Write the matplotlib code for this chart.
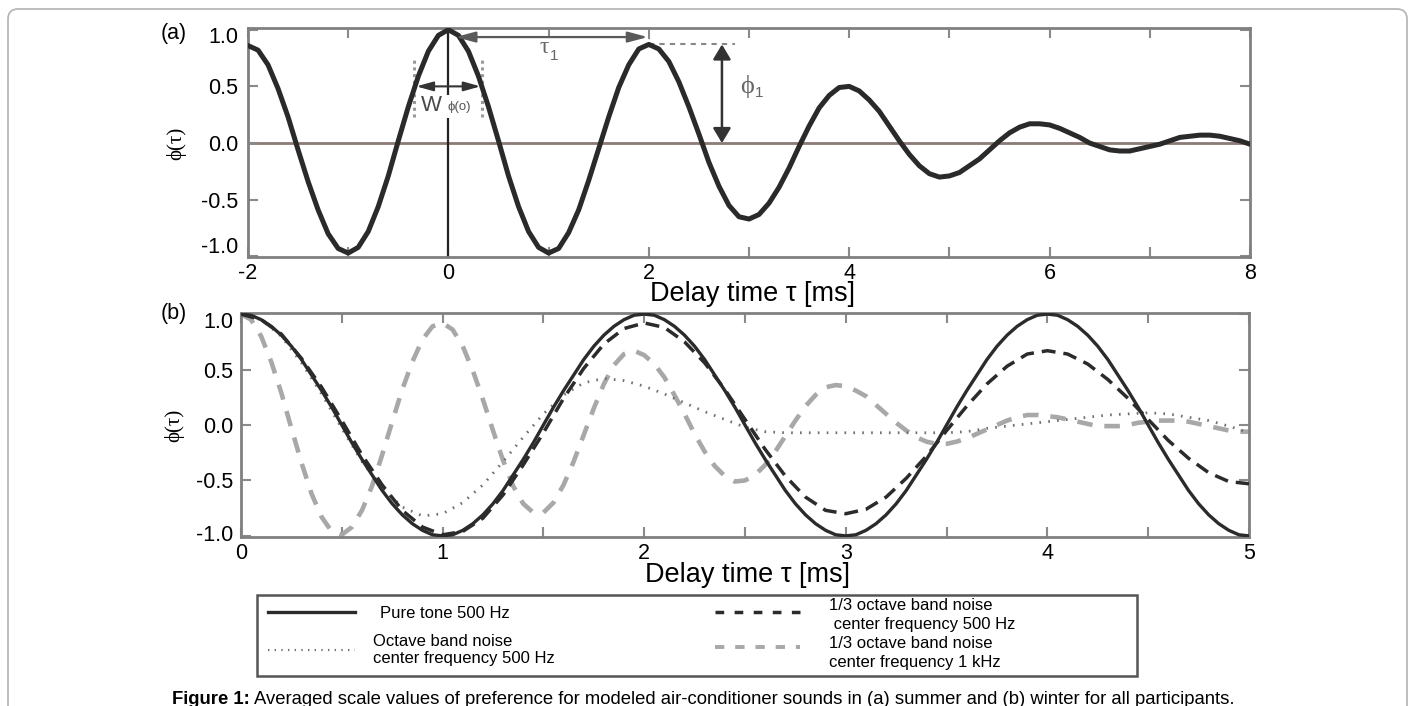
import matplotlib
matplotlib.use('Agg')
import matplotlib.pyplot as plt
import numpy as np
from matplotlib.patches import FancyBboxPatch, Rectangle
from matplotlib.lines import Line2D
from matplotlib.transforms import IdentityTransform, ScaledTranslation

plt.rcParams['font.family'] = ['Liberation Sans', 'DejaVu Sans']
SERIF = ['Liberation Serif', 'DejaVu Serif']

# ---------------- data ----------------
# (a) autocorrelation function, delay -2..8 ms, step 0.1 ms
tau_a = np.round(np.arange(-2.0, 8.0001, 0.1), 2)
phi_a = [0.86, 0.82, 0.69, 0.48, 0.23, -0.06, -0.34, -0.59, -0.80, -0.93,
         -0.97, -0.92, -0.78, -0.56, -0.29, 0.02, 0.32, 0.59, 0.81, 0.95,
         1.00, 0.95, 0.81, 0.59, 0.32, 0.02, -0.29, -0.56, -0.78, -0.92,
         -0.97, -0.93, -0.79, -0.59, -0.33, -0.05, 0.23, 0.49, 0.69, 0.83,
         0.87, 0.83, 0.72, 0.54, 0.32, 0.08, -0.17, -0.38, -0.55, -0.65,
         -0.67, -0.63, -0.53, -0.39, -0.22, -0.03, 0.15, 0.31, 0.42, 0.49,
         0.50, 0.46, 0.38, 0.28, 0.15, 0.02, -0.10, -0.20, -0.27, -0.30,
         -0.29, -0.26, -0.20, -0.14, -0.06, 0.02, 0.09, 0.14, 0.17, 0.17,
         0.16, 0.13, 0.09, 0.05, 0.00, -0.03, -0.06, -0.07, -0.07, -0.05,
         -0.03, -0.01, 0.02, 0.05, 0.06, 0.07, 0.07, 0.06, 0.04, 0.02,
         -0.01]
tau1_peak = 2.0      # delay of first peak
phi1_peak = 0.87     # amplitude of first peak
w_half = 0.34        # half width of W_phi(0) at phi = 0.5

# (b) four sounds, delay 0..5 ms
tau_b = np.round(np.arange(0.0, 5.0001, 0.1), 2)
tau_b_fine = np.round(np.arange(0.0, 5.0001, 0.05), 2)
pure_500 = [1.00, 0.99, 0.95, 0.89, 0.81, 0.71, 0.59, 0.45, 0.31, 0.16,
            0.00, -0.16, -0.31, -0.45, -0.59, -0.71, -0.81, -0.89, -0.95, -0.99,
            -1.00, -0.99, -0.95, -0.89, -0.81, -0.71, -0.59, -0.45, -0.31, -0.16,
            0.00, 0.16, 0.31, 0.45, 0.59, 0.71, 0.81, 0.89, 0.95, 0.99,
            1.00, 0.99, 0.95, 0.89, 0.81, 0.71, 0.59, 0.45, 0.31, 0.16,
            0.00, -0.16, -0.31, -0.45, -0.59, -0.71, -0.81, -0.89, -0.95, -0.99,
            -1.00, -0.99, -0.95, -0.89, -0.81, -0.71, -0.59, -0.45, -0.31, -0.16,
            0.00, 0.16, 0.31, 0.45, 0.59, 0.71, 0.81, 0.89, 0.95, 0.99,
            1.00, 0.99, 0.95, 0.89, 0.81, 0.71, 0.59, 0.45, 0.31, 0.16,
            0.00, -0.16, -0.31, -0.45, -0.59, -0.71, -0.81, -0.89, -0.95, -0.99,
            -1.00]
octave_500 = [1.00, 0.95, 0.80, 0.56, 0.28, -0.03, -0.33, -0.57, -0.74, -0.82,
              -0.80, -0.70, -0.54, -0.33, -0.11, 0.10, 0.27, 0.38, 0.42, 0.40,
              0.35, 0.28, 0.20, 0.12, 0.05, -0.02, -0.06, -0.07, -0.07, -0.07,
              -0.07, -0.07, -0.07, -0.07, -0.07, -0.07, -0.06, -0.03, -0.01, 0.01,
              0.03, 0.05, 0.07, 0.09, 0.10, 0.11, 0.10, 0.07, 0.04, -0.01,
              -0.07]
third_500 = [1.00, 0.95, 0.82, 0.60, 0.34, 0.04, -0.27, -0.54, -0.77, -0.92,
             -0.99, -0.96, -0.84, -0.63, -0.36, -0.07, 0.24, 0.51, 0.73, 0.87,
             0.92, 0.88, 0.75, 0.56, 0.32, 0.05, -0.22, -0.46, -0.65, -0.77,
             -0.80, -0.76, -0.65, -0.48, -0.28, -0.05, 0.17, 0.37, 0.53, 0.64,
             0.67, 0.64, 0.55, 0.41, 0.24, 0.05, -0.14, -0.30, -0.43, -0.51,
             -0.53]
third_1k = [1.00, 0.95, 0.80, 0.57, 0.29, -0.03, -0.34, -0.62, -0.83, -0.96,
            -0.99, -0.92, -0.77, -0.55, -0.27, 0.03, 0.32, 0.57, 0.77, 0.89,
            0.92, 0.86, 0.71, 0.49, 0.23, -0.05, -0.32, -0.55, -0.71, -0.79,
            -0.79, -0.70, -0.54, -0.33, -0.09, 0.15, 0.37, 0.54, 0.64, 0.67,
            0.63, 0.55, 0.43, 0.27, 0.10, -0.08, -0.24, -0.37, -0.46, -0.51,
            -0.50, -0.45, -0.36, -0.24, -0.10, 0.04, 0.17, 0.27, 0.34, 0.36,
            0.35, 0.31, 0.26, 0.18, 0.10, 0.02, -0.05, -0.11, -0.15, -0.17,
            -0.17, -0.15, -0.12, -0.08, -0.04, 0.00, 0.04, 0.07, 0.09, 0.09,
            0.08, 0.07, 0.05, 0.03, 0.01, -0.01, -0.01, -0.01, 0.00, 0.02,
            0.03, 0.04, 0.04, 0.04, 0.03, 0.01, -0.01, -0.03, -0.05, -0.06,
            -0.06]

xticks_a = [-2, 0, 2, 4, 6, 8]
xticks_b = [0, 1, 2, 3, 4, 5]
yticks = [-1.0, -0.5, 0.0, 0.5, 1.0]
ytick_labels = ['-1.0', '-0.5', '0.0', '0.5', '1.0']
legend_labels = ['Pure tone 500 Hz',
                 'Octave band noise\ncenter frequency 500 Hz',
                 '1/3 octave band noise\n center frequency 500 Hz',
                 '1/3 octave band noise\ncenter frequency 1 kHz']
xlabel = 'Delay time τ [ms]'
ylabel = 'ϕ(τ)'
caption_bold = 'Figure 1:'
caption_rest = ('Averaged scale values of preference for modeled air-conditioner '
                'sounds in (a) summer and (b) winter for all participants.')

# ---------------- figure ----------------
W, H = 1415, 706
fig = plt.figure(figsize=(W / 100, H / 100), dpi=100)


def fx(px):
    return px / W


def fy(py):
    return 1 - py / H


# outer rounded page frame
frame = FancyBboxPatch((8, -30), 1399, 697 + 30,
                       boxstyle='round,pad=0,rounding_size=10',
                       transform=IdentityTransform(), fill=False,
                       edgecolor='#b8b8b8', lw=1.3)
fig.add_artist(frame)

SPINE = '#808080'
TICKC = '#8a8a8a'


def style_axes(ax, ypad):
    for s in ax.spines.values():
        s.set_color(SPINE)
        s.set_linewidth(2.0)
    ax.tick_params(which='both', direction='in', top=True, right=True,
                   length=7, width=1.5, color=TICKC, labelsize=15.5,
                   labelcolor='black')
    ax.tick_params(axis='x', which='major', pad=4)
    ax.tick_params(axis='y', which='major', pad=ypad)


def y_end_labels(ax, ypad_px, top_y, bot_y):
    trans = ax.get_yaxis_transform() + ScaledTranslation(-ypad_px / 100, 0, fig.dpi_scale_trans)
    ax.text(0, top_y, ytick_labels[-1], transform=trans, ha='right', va='center',
            fontsize=15.5)
    ax.text(0, bot_y, ytick_labels[0], transform=trans, ha='right', va='center',
            fontsize=15.5)


# ---------- panel (a) ----------
ax_a = fig.add_axes([fx(248), fy(257), fx(1250) - fx(248), (257 - 28) / H])
ax_a.set_xlim(-2, 8)
ax_a.set_ylim(-1.005, 1.015)
ax_a.axhline(0, color='#8c7a76', lw=2.0, zorder=1)
ax_a.axvline(0, ymin=0.0, ymax=0.995, color='#222222', lw=1.6, zorder=2)
ax_a.plot(tau_a, phi_a, color='#2a2a2a', lw=3.6, solid_capstyle='round',
          solid_joinstyle='round', zorder=4)

ax_a.set_xticks(xticks_a)
ax_a.set_xticklabels([str(v) for v in xticks_a])
ax_a.set_xticks([-1, 1, 3, 5, 7], minor=True)
ax_a.set_yticks(yticks)
ax_a.set_yticklabels([''] + ytick_labels[1:-1] + [''])
style_axes(ax_a, 7)
y_end_labels(ax_a, 10, 0.93, -0.925)

# white patch behind W label
ax_a.add_patch(Rectangle((-0.29, 0.22), 0.58, 0.20, facecolor='white',
                         edgecolor='none', zorder=2.5))
ax_a.text(-0.17, 0.335, 'W', fontsize=16, color='#4a4a4a', ha='center',
          va='center', zorder=5)
ax_a.text(0.11, 0.32, 'ϕ(o)', fontsize=9.5, color='#555555', ha='center',
          va='center', zorder=5, family=['Liberation Sans', 'DejaVu Sans'])
# W dotted bounds
for xv in (-w_half, w_half):
    ax_a.plot([xv, xv], [0.23, 0.74], ls=(0, (1, 1.2)), color='#9a9a9a', lw=2.2,
              zorder=3)
ax_a.annotate('', xy=(w_half - 0.02, 0.5), xytext=(-w_half + 0.02, 0.5),
              arrowprops=dict(arrowstyle='<|-|>,head_length=0.5,head_width=0.14',
                              color='#333333', lw=1.5, mutation_scale=20,
                              shrinkA=0, shrinkB=0), zorder=5)

# tau_1 arrow
ax_a.annotate('', xy=(tau1_peak - 0.01, 0.935), xytext=(0.07, 0.935),
              arrowprops=dict(arrowstyle='<|-|>,head_length=0.6,head_width=0.16',
                              color='#5a5a5a', lw=1.6, mutation_scale=20,
                              shrinkA=0, shrinkB=0), zorder=5)
ax_a.plot([tau1_peak, tau1_peak], [phi1_peak, 1.0], ls=(0, (1, 1.5)),
          color='#888888', lw=1.4, zorder=3)
ax_a.plot([tau1_peak, 2.86], [phi1_peak, phi1_peak], ls=(0, (2.5, 2.5)),
          color='#888888', lw=1.5, zorder=3)
ax_a.text(0.96, 0.84, 'τ', fontsize=17, color='#666666', ha='center',
          va='center', family=SERIF)
ax_a.text(1.06, 0.77, '1', fontsize=11, color='#666666', ha='center',
          va='center')

# phi_1 arrow
ax_a.annotate('', xy=(2.73, 0.0), xytext=(2.73, phi1_peak),
              arrowprops=dict(arrowstyle='<|-|>,head_length=0.45,head_width=0.27',
                              color='#333333', lw=1.8, mutation_scale=20,
                              shrinkA=0, shrinkB=0), zorder=5)
ax_a.text(2.98, 0.50, 'ϕ', fontsize=19, color='#666666', ha='center',
          va='center', family=SERIF)
ax_a.text(3.10, 0.44, '1', fontsize=11, color='#666666', ha='center',
          va='center')

# ---------- panel (b) ----------
ax_b = fig.add_axes([fx(241), fy(537), fx(1249) - fx(241), (537 - 313) / H])
ax_b.set_xlim(0, 5)
ax_b.set_ylim(-1.01, 1.01)
ax_b.plot(tau_b_fine, third_1k, color='#a8a8a8', lw=3.3, dashes=(3.4, 2.6),
          zorder=2)
ax_b.plot(tau_b, octave_500, color='#707070', lw=2.0, dashes=(0.6, 2.6),
          zorder=3)
ax_b.plot(tau_b_fine, pure_500, color='#2b2b2b', lw=2.4, zorder=4)
ax_b.plot(tau_b, third_500, color='#2b2b2b', lw=2.5, dashes=(4, 2.3), zorder=5)

ax_b.set_xticks(xticks_b)
ax_b.set_xticklabels([str(v) for v in xticks_b])
ax_b.set_xticks([0.5, 1.5, 2.5, 3.5, 4.5], minor=True)
ax_b.set_yticks(yticks)
ax_b.set_yticklabels(ytick_labels[:-1] + [''])
style_axes(ax_b, 5.5)
y_end_labels(ax_b, 8, 0.92, -1.0)
ax_b.get_yticklabels()[0].set_visible(False)

# axis labels, panel tags
fig.text(fx(753), fy(294), xlabel, fontsize=19.5, ha='center', va='center')
fig.text(fx(748), fy(575), xlabel, fontsize=19.5, ha='center', va='center')
fig.text(fx(176), fy(143), ylabel, fontsize=15, rotation=90, ha='center',
         va='center', family=SERIF)
fig.text(fx(174), fy(425), ylabel, fontsize=15, rotation=90, ha='center',
         va='center', family=SERIF)
fig.text(fx(174), fy(33), '(a)', fontsize=15.5, ha='center', va='center')
fig.text(fx(174), fy(313), '(b)', fontsize=15.5, ha='center', va='center')

# ---------- legend ----------
fig.add_artist(Rectangle((fx(257), fy(676)), fx(1137) - fx(257), (676 - 595) / H,
                         transform=fig.transFigure, fill=False,
                         edgecolor='#555555', lw=1.8))
LFS = 12
fig.add_artist(Line2D([fx(268), fx(355)], [fy(612), fy(612)],
                      transform=fig.transFigure, color='#2b2b2b', lw=2.4))
fig.text(fx(380), fy(613), legend_labels[0], fontsize=LFS, va='center')
fig.add_artist(Line2D([fx(268), fx(355)], [fy(650), fy(650)],
                      transform=fig.transFigure, color='#707070', lw=1.6,
                      dashes=(0.6, 2.4)))
fig.text(fx(373), fy(650), legend_labels[1], fontsize=LFS, va='center',
         linespacing=1.25)
fig.add_artist(Line2D([fx(715), fx(800)], [fy(612), fy(612)],
                      transform=fig.transFigure, color='#2b2b2b', lw=2.5,
                      dashes=(2.5, 3.0)))
fig.text(fx(829), fy(615), legend_labels[2], fontsize=LFS, va='center',
         linespacing=1.25)
fig.add_artist(Line2D([fx(715), fx(800)], [fy(647), fy(647)],
                      transform=fig.transFigure, color='#a8a8a8', lw=2.8,
                      dashes=(2.4, 2.8)))
fig.text(fx(829), fy(653), legend_labels[3], fontsize=LFS, va='center',
         linespacing=1.25)

# ---------- caption ----------
CFS = 13.3
t1 = fig.text(fx(172), fy(699), caption_bold, fontsize=CFS, fontweight='bold',
              va='center')
fig.canvas.draw()
bb = t1.get_window_extent(renderer=fig.canvas.get_renderer())
fig.text((bb.x1 + 4) / W, fy(699), caption_rest, fontsize=CFS, va='center')

fig.savefig('out.png', dpi=100)
